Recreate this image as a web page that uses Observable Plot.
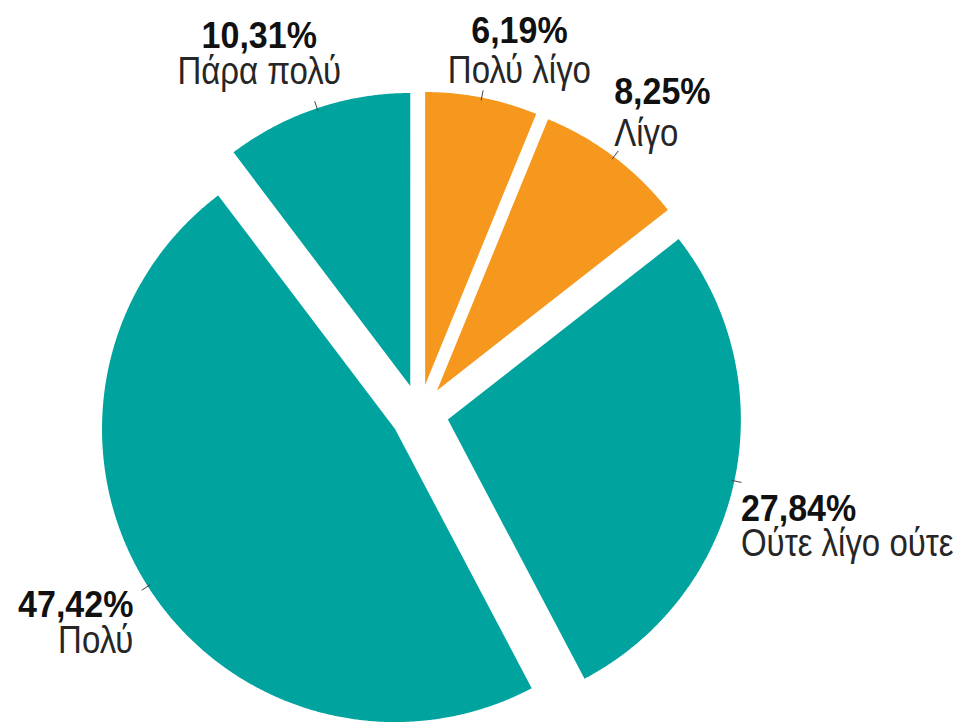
<!DOCTYPE html>
<html>
<head>
<meta charset="utf-8">
<script src="https://cdn.jsdelivr.net/npm/d3@7"></script>
<script src="https://cdn.jsdelivr.net/npm/@observablehq/plot@0.6"></script>
<style>
  html, body { margin: 0; padding: 0; background: #fff; overflow: hidden; }
  #chart svg { display: block; }
</style>
</head>
<body>
<div id="chart"></div>
<script>
// ---- Data ----
const categories = ["Πολύ λίγο", "Λίγο", "Ούτε λίγο ούτε πολύ", "Πολύ", "Πάρα πολύ"];
const shownNames = ["Πολύ λίγο", "Λίγο", "Ούτε λίγο ούτε", "Πολύ", "Πάρα πολύ"];
const percentages = [6.19, 8.25, 27.84, 47.42, 10.31];
const groups = ["low", "low", "high", "high", "high"];
const groupColors = ["#f7981e", "#00a39e"]; // low, high

// ---- Layout (pixels) ----
const W = 961, H = 723;
const centerPx = [419, 413];
const radiusPx = 293;
const explode = 29 / radiusPx;      // in pie-radius units
const labelLayout = [
  {anchor: "middle", dx: 36,  dyPct: -46, dyName: -6},
  {anchor: "start",  dx: -5,  dyPct: -46, dyName: -4},
  {anchor: "start",  dx: -2,  dyPct: 38,  dyName: 73},
  {anchor: "end",    dx: -7,  dyPct: 26,  dyName: 62},
  {anchor: "middle", dx: -55, dyPct: -52, dyName: -16}
];

// ---- Geometry from the values ----
const arcs = d3.pie().sort(null).value(d => d)(percentages);
const slicePoints = [];
const rows = arcs.map((a, i) => {
  const mid = (a.startAngle + a.endAngle) / 2;
  const ux = Math.sin(mid), uy = Math.cos(mid);
  const ax = explode * ux, ay = explode * uy;
  const pts = [{x: ax, y: ay}];
  const steps = Math.max(8, Math.ceil((a.endAngle - a.startAngle) / 0.005));
  for (let k = 0; k <= steps; k++) {
    const t = a.startAngle + (a.endAngle - a.startAngle) * k / steps;
    pts.push({x: ax + Math.sin(t), y: ay + Math.cos(t)});
  }
  pts.forEach(p => slicePoints.push({...p, key: categories[i], group: groups[i]}));
  return {
    key: categories[i],
    name: shownNames[i],
    pct: percentages[i].toFixed(2).replace(".", ",") + "%",
    x1: ax + 0.99 * ux, y1: ay + 0.99 * uy,
    x2: ax + 1.025 * ux, y2: ay + 1.025 * uy,
    tx: ax + 1.03 * ux, ty: ay + 1.03 * uy
  };
});

const font = "'Liberation Sans', Arial, Helvetica, sans-serif";

const textMarks = [];
rows.forEach((r, i) => {
  const L = labelLayout[i];
  textMarks.push(Plot.text([r], {
    x: "tx", y: "ty", text: "pct", dx: L.dx, dy: L.dyPct,
    textAnchor: L.anchor, lineAnchor: "bottom",
    fontSize: 34, fontWeight: "bold", fill: "#111", fontFamily: font,
    className: "pct-label"
  }));
  textMarks.push(Plot.text([r], {
    x: "tx", y: "ty", text: "name", dx: L.dx, dy: L.dyName,
    textAnchor: L.anchor, lineAnchor: "bottom",
    fontSize: 33, fill: "#262626", fontFamily: font,
    className: "name-label"
  }));
});

const chart = Plot.plot({
  width: W, height: H, margin: 0,
  style: {background: "#fff", fontFamily: font},
  x: {domain: [-centerPx[0] / radiusPx, (W - centerPx[0]) / radiusPx], axis: null},
  y: {domain: [-(H - centerPx[1]) / radiusPx, centerPx[1] / radiusPx], axis: null},
  color: {domain: ["low", "high"], range: groupColors},
  marks: [
    Plot.line(slicePoints, {x: "x", y: "y", z: "key", fill: "group", stroke: null, curve: "linear-closed"}),
    Plot.link(rows, {x1: "x1", y1: "y1", x2: "x2", y2: "y2", stroke: "#444", strokeWidth: 1}),
    ...textMarks
  ]
});
// slightly taller lettering, as in the original
d3.select(chart).selectAll("g.pct-label text").each(function () {
  this.setAttribute("transform", (this.getAttribute("transform") || "") + " scale(1,1.08)");
});
d3.select(chart).selectAll("g.name-label text").each(function () {
  this.setAttribute("transform", (this.getAttribute("transform") || "") + " scale(1,1.15)");
});
document.getElementById("chart").appendChild(chart);
</script>
</body>
</html>
